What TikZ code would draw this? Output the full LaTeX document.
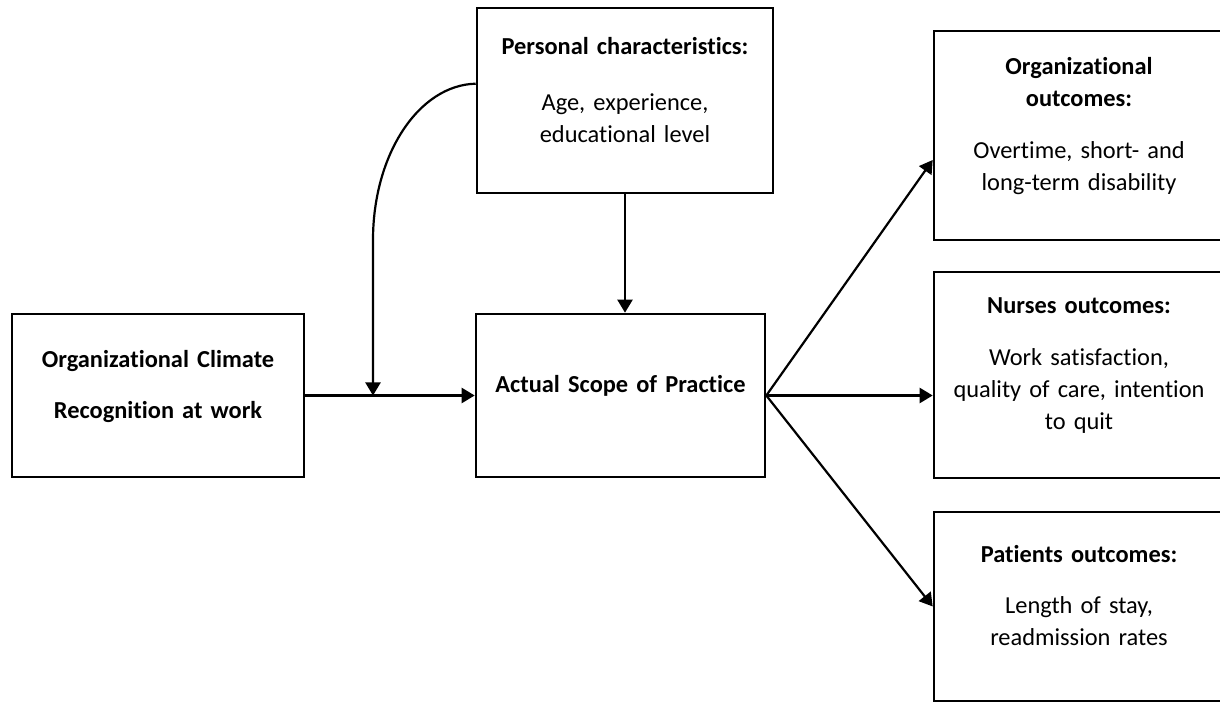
\documentclass[tikz,border=0pt]{standalone}
\usepackage{fontspec}
\setmainfont{Carlito}[Ligatures=NoCommon]
\usetikzlibrary{arrows.meta,calc}

\begin{document}
\begin{tikzpicture}[
        x=0.5pt, y=-0.5pt,
        every node/.style={font=\fontsize{12.2}{16}\selectfont},
        box/.style={rectangle,draw,line width=1.3pt,inner sep=0pt},
        txt/.style={align=center,text width=142pt,inner sep=0pt,anchor=base},
        arrow/.style={-{Triangle[length=6.5pt,width=7.5pt]},line width=1.1pt},
        ]
        \useasboundingbox (0,0) rectangle (1220,704);
        \clip (0,0) rectangle (1220,704);

        % Boxes
        \node[box,minimum width=146pt,minimum height=81.5pt] (clim) at (158,395.5) {};
        \node[box,minimum width=148pt,minimum height=92.5pt] (pers) at (625,100.5) {};
        \node[box,minimum width=144.5pt,minimum height=81.5pt] (scope) at (620.5,395.5) {};
        \node[box,minimum width=145pt,minimum height=104.5pt] (orgo) at (1079,135.5) {};
        \node[box,minimum width=145pt,minimum height=103pt] (nurse) at (1079,375) {};
        \node[box,minimum width=145pt,minimum height=94.5pt] (pat) at (1079,606.5) {};

        % Texts
        \node[txt] (climtxt) at (158,368) {\bfseries Organizational Climate\\[9.5pt] Recognition at work};
        \node[txt] (perstxt) at (625,55) {\textbf{Personal characteristics:}\\[12pt] Age, experience,\\ educational level};
        \node[txt] (scopetxt) at (620.5,393) {\bfseries Actual Scope of Practice};
        \node[txt] (orgotxt) at (1079,75) {\textbf{Organizational}\\ \textbf{outcomes:}\\[10pt] Overtime, short- and\\ long-term disability};
        \node[txt] (nursetxt) at (1079,314) {\textbf{Nurses outcomes:}\\[10pt] Work satisfaction,\\ quality of care, intention\\ to quit};
        \node[txt] (pattxt) at (1079,563) {\textbf{Patients outcomes:}\\[9.5pt] Length of stay,\\ readmission rates};

        % Connections
        \coordinate (join) at (373,395.5);
        \coordinate (perskey) at ($(pers.north west)+(0,77)$);
        \draw[arrow] (clim.east) -- (scope.west);
        \draw[arrow] (perskey) .. controls (419,85) and (373,154) .. (373,240) -- (join);
        \draw[arrow] (pers.south) -- (pers.south |- scope.north);

        % Outcomes
        \draw[arrow] (scope.east) -- ($(orgo.west)+(0,24.5)$);
        \draw[arrow] (scope.east) -- (scope.east -| nurse.west);
        \draw[arrow] (scope.east) -- (pat.west);
\end{tikzpicture}
\end{document}
